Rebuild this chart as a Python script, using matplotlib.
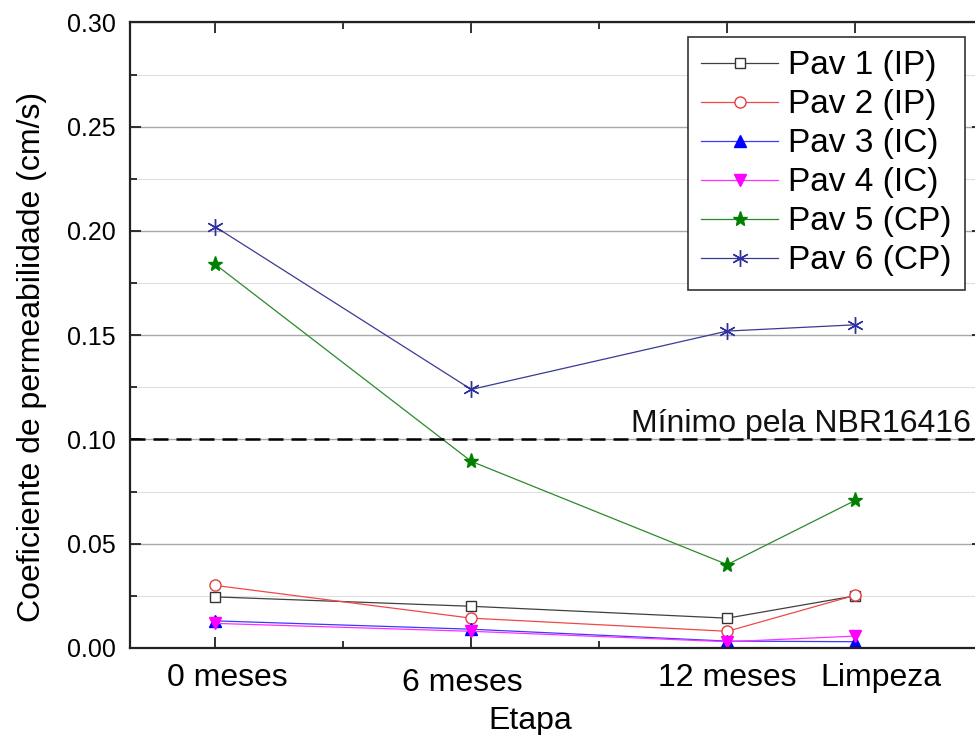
import matplotlib
matplotlib.use('Agg')
import matplotlib.pyplot as plt
from matplotlib.transforms import ScaledTranslation

plt.rcParams['font.family'] = ['Liberation Sans', 'DejaVu Sans']

# months after construction; "Limpeza" (cleaning) sits at 15
stage_x = [0, 6, 12, 15]
stage_labels = ['0 meses', '6 meses', '12 meses', 'Limpeza']

pav1 = [0.0245, 0.0200, 0.0143, 0.0250]
pav2 = [0.0300, 0.0143, 0.0080, 0.0253]
pav3 = [0.0130, 0.0090, 0.0033, 0.0030]
pav4 = [0.0118, 0.0080, 0.0030, 0.0057]
pav5 = [0.1840, 0.0895, 0.0400, 0.0708]
pav6 = [0.2020, 0.1240, 0.1520, 0.1550]

names = ['Pav 1 (IP)', 'Pav 2 (IP)', 'Pav 3 (IC)',
         'Pav 4 (IC)', 'Pav 5 (CP)', 'Pav 6 (CP)']
nbr_min = 0.10

styles = [
    dict(color='#404040', marker='s', mfc='white', mec='#333333', ms=7),
    dict(color='#f04848', marker='o', mfc='white', mec='#e04040', ms=8),
    dict(color='#3a3aff', marker='^', mfc='#0000ff', mec='#0000ff', ms=9),
    dict(color='#ff30ff', marker='v', mfc='#ff00ff', mec='#ff00ff', ms=9),
    dict(color='#2a8a2a', marker='*', mfc='#008000', mec='#008000', ms=11),
    dict(color='#3a3a96', marker=(6, 2, 0), mfc='#2a2a8a', mec='#3030a0', ms=12, mew=1.0),
]

fig = plt.figure(figsize=(9.75, 7.35), dpi=100)
ax = fig.add_axes([0.1333, 0.1184, 0.8752, 0.851])

ax.set_xlim(-2, 18)
ax.set_ylim(0, 0.30)

for vals, name, st in zip([pav1, pav2, pav3, pav4, pav5, pav6], names, styles):
    ax.plot(stage_x, vals, lw=0.9, label=name, **st)

ax.axhline(nbr_min, color='black', lw=1.8, dashes=(6, 3.2))
ax.text(17.72, nbr_min + 0.0035, 'Mínimo pela NBR16416', fontsize=23,
        ha='right', va='baseline', color='#111111')

# grid
ax.set_yticks([0, 0.05, 0.10, 0.15, 0.20, 0.25, 0.30])
ax.set_yticks([0.025, 0.075, 0.125, 0.175, 0.225, 0.275], minor=True)
ax.set_yticklabels(['0.00', '0.05', '0.10', '0.15', '0.20', '0.25', '0.30'])
ax.yaxis.grid(True, which='major', color='#a8a8a8', lw=1.0)
ax.yaxis.grid(True, which='minor', color='#e0e0e0', lw=0.8)
ax.set_axisbelow(True)

ax.set_xticks(stage_x)
ax.set_xticks([3, 9], minor=True)
ax.set_xticklabels(stage_labels)

ax.tick_params(axis='both', which='both', direction='in', top=True, right=True,
               color='#222222', width=1.3)
ax.tick_params(which='major', length=8)
ax.tick_params(which='minor', length=5)
ax.tick_params(axis='x', labelsize=23, pad=11)
ax.tick_params(axis='y', labelsize=18, pad=10)

for side in ['left', 'bottom', 'top', 'right']:
    ax.spines[side].set_linewidth(1.6)
    ax.spines[side].set_color('#222222')

# hand-placed tick labels in the original (pixel offsets)
offsets = [(12, 0), (-9, -5), (0, 0), (26, 0)]
for lab, (dx, dy) in zip(ax.get_xticklabels(), offsets):
    lab.set_transform(lab.get_transform() +
                      ScaledTranslation(dx / 100, dy / 100, fig.dpi_scale_trans))

ax.set_xlabel('Etapa', fontsize=23)
ax.xaxis.set_label_coords(0.469, -0.092)
ax.set_ylabel('Coeficiente de permeabilidade (cm/s)', fontsize=23)
ax.yaxis.set_label_coords(-0.097, 0.465)

leg = ax.legend(loc='upper right', bbox_to_anchor=(0.9785, 0.977), borderaxespad=0,
                fontsize=24, handlelength=2.3, handletextpad=0.3, labelspacing=0.24,
                borderpad=0.4, fancybox=False, framealpha=1, edgecolor='#333333')
leg.get_frame().set_linewidth(1.2)

plt.savefig('out.png', dpi=100)
